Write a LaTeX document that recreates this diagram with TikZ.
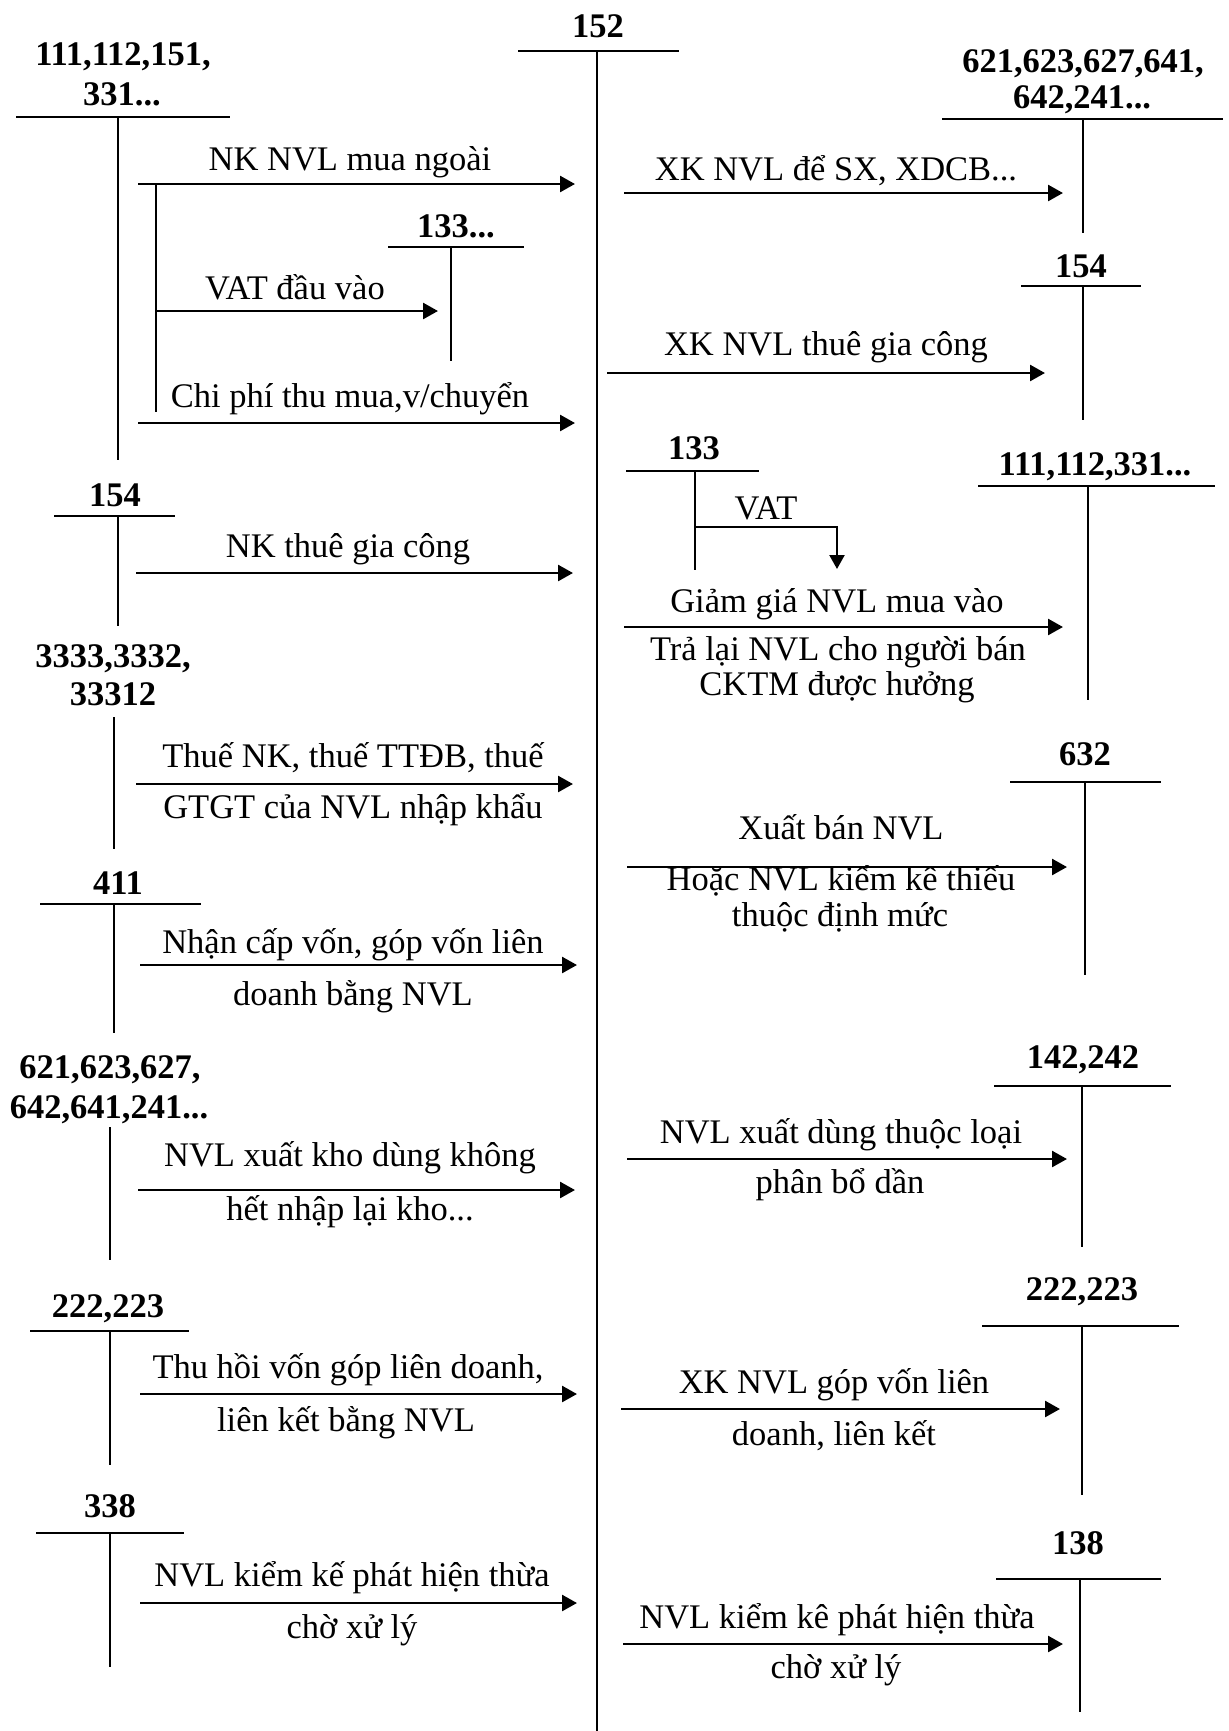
\documentclass[tikz,border=0pt]{standalone}
\usepackage{fontspec}
\setmainfont{Liberation Serif}
\usetikzlibrary{arrows.meta}
\begin{document}
\begin{tikzpicture}[x=0.5pt,y=-0.5pt,
  txt/.style={inner sep=0pt, anchor=base, font=\fontsize{17.25}{20}\selectfont},
  acc/.style={inner sep=0pt, anchor=base, font=\fontsize{17.25}{20}\selectfont\bfseries},
  bar/.style={line width=1.1pt},
  stem/.style={line width=0.9pt},
  mainstem/.style={line width=1.2pt},
  arr/.style={line width=1.3pt, -{Triangle[length=7.5pt,width=8pt]}}]
\fill[white] (0,0) rectangle (1228,1731);
\useasboundingbox (0,0) rectangle (1228,1731);

% ---------- central account 152 ----------
\node[acc] (t152) at (598,37) {152};
\coordinate (b152a) at (518,51); \coordinate (b152b) at (679,51);
\coordinate (s152a) at (597,51); \coordinate (s152b) at (597,1731);
\draw[bar] (b152a) -- (b152b);
\draw[mainstem] (s152a) -- (s152b);

% ---------- left accounts ----------
% 111,112,151,331...
\node[acc] (t111a) at (123,65) {111,112,151,};
\node[acc] (t111b) at (122,105) {331...};
\coordinate (b111a) at (16,117); \coordinate (b111b) at (230,117);
\coordinate (s111a) at (118,117); \coordinate (s111b) at (118,460);
\draw[bar] (b111a) -- (b111b);
\draw[stem] (s111a) -- (s111b);
\coordinate (br1) at (156,185); \coordinate (br2) at (156,412);
\draw[stem] (br1) -- (br2);
\coordinate (a1s) at (138,184); \coordinate (a1e) at (575,184);
\draw[arr] (a1s) -- (a1e);
\node[txt] (l1) at (350,170) {NK NVL mua ngoài};
% 133...
\node[acc] (t133a) at (456,237) {133...};
\coordinate (b133a) at (388,247); \coordinate (b133b) at (524,247);
\coordinate (s133a) at (451,247); \coordinate (s133b) at (451,361);
\draw[bar] (b133a) -- (b133b);
\draw[stem] (s133a) -- (s133b);
\coordinate (a2s) at (156,311); \coordinate (a2e) at (438,311);
\draw[arr] (a2s) -- (a2e);
\node[txt] (l2) at (295,299) {VAT đầu vào};
\coordinate (a3s) at (138,423); \coordinate (a3e) at (575,423);
\draw[arr] (a3s) -- (a3e);
\node[txt] (l3) at (350,407) {Chi phí thu mua,v/chuyển};

% 154 left
\node[acc] (t154l) at (115,506) {154};
\coordinate (b154la) at (54,516); \coordinate (b154lb) at (175,516);
\coordinate (s154la) at (118,516); \coordinate (s154lb) at (118,626);
\draw[bar] (b154la) -- (b154lb);
\draw[stem] (s154la) -- (s154lb);
\coordinate (a4s) at (136,573); \coordinate (a4e) at (573,573);
\draw[arr] (a4s) -- (a4e);
\node[txt] (l4) at (348,557) {NK thuê gia công};

% 3333,3332,33312
\node[acc] (t3333a) at (113,667) {3333,3332,};
\node[acc] (t3333b) at (113,705) {33312};
\coordinate (s3333a) at (114,717); \coordinate (s3333b) at (114,849);
\draw[stem] (s3333a) -- (s3333b);
\coordinate (a5s) at (136,784); \coordinate (a5e) at (573,784);
\draw[arr] (a5s) -- (a5e);
\node[txt] (l5a) at (353,767) {Thuế NK, thuế TTĐB, thuế};
\node[txt] (l5b) at (353,818) {GTGT của NVL nhập khẩu};

% 411
\node[acc] (t411) at (118,894) {411};
\coordinate (b411a) at (40,904); \coordinate (b411b) at (201,904);
\coordinate (s411a) at (114,904); \coordinate (s411b) at (114,1033);
\draw[bar] (b411a) -- (b411b);
\draw[stem] (s411a) -- (s411b);
\coordinate (a6s) at (140,965); \coordinate (a6e) at (577,965);
\draw[arr] (a6s) -- (a6e);
\node[txt] (l6a) at (353,953) {Nhận cấp vốn, góp vốn liên};
\node[txt] (l6b) at (353,1005) {doanh bằng NVL};

% 621,623,627,642,641,241... left
\node[acc] (t621la) at (110,1078) {621,623,627,};
\node[acc] (t621lb) at (109,1118) {642,641,241...};
\coordinate (s621la) at (110,1127); \coordinate (s621lb) at (110,1260);
\draw[stem] (s621la) -- (s621lb);
\coordinate (a7s) at (138,1190); \coordinate (a7e) at (575,1190);
\draw[arr] (a7s) -- (a7e);
\node[txt] (l7a) at (350,1166) {NVL xuất kho dùng không};
\node[txt] (l7b) at (350,1220) {hết nhập lại kho...};

% 222,223 left
\node[acc] (t222l) at (108,1317) {222,223};
\coordinate (b222la) at (30,1331); \coordinate (b222lb) at (189,1331);
\coordinate (s222la) at (110,1331); \coordinate (s222lb) at (110,1465);
\draw[bar] (b222la) -- (b222lb);
\draw[stem] (s222la) -- (s222lb);
\coordinate (a8s) at (140,1394); \coordinate (a8e) at (577,1394);
\draw[arr] (a8s) -- (a8e);
\node[txt] (l8a) at (348,1378) {Thu hồi vốn góp liên doanh,};
\node[txt] (l8b) at (346,1431) {liên kết bằng NVL};

% 338
\node[acc] (t338) at (110,1517) {338};
\coordinate (b338a) at (36,1533); \coordinate (b338b) at (184,1533);
\coordinate (s338a) at (110,1533); \coordinate (s338b) at (110,1667);
\draw[bar] (b338a) -- (b338b);
\draw[stem] (s338a) -- (s338b);
\coordinate (a9s) at (140,1603); \coordinate (a9e) at (577,1603);
\draw[arr] (a9s) -- (a9e);
\node[txt] (l9a) at (352,1586) {NVL kiểm kế phát hiện thừa};
\node[txt] (l9b) at (352,1638) {chờ xử lý};

% ---------- right accounts ----------
% 621,623,627,641,642,241...
\node[acc] (t621ra) at (1083,72) {621,623,627,641,};
\node[acc] (t621rb) at (1082,108) {642,241...};
\coordinate (b621ra) at (942,119); \coordinate (b621rb) at (1223,119);
\coordinate (s621ra) at (1083,119); \coordinate (s621rb) at (1083,233);
\draw[bar] (b621ra) -- (b621rb);
\draw[stem] (s621ra) -- (s621rb);
\coordinate (r1s) at (624,193); \coordinate (r1e) at (1063,193);
\draw[arr] (r1s) -- (r1e);
\node[txt] (m1) at (836,180) {XK NVL để SX, XDCB...};

% 154 right
\node[acc] (t154r) at (1081,277) {154};
\coordinate (b154ra) at (1021,286); \coordinate (b154rb) at (1141,286);
\coordinate (s154ra) at (1083,286); \coordinate (s154rb) at (1083,420);
\draw[bar] (b154ra) -- (b154rb);
\draw[stem] (s154ra) -- (s154rb);
\coordinate (r2s) at (607,373); \coordinate (r2e) at (1045,373);
\draw[arr] (r2s) -- (r2e);
\node[txt] (m2) at (826,355) {XK NVL thuê gia công};

% 133 right
\node[acc] (t133r) at (694,459) {133};
\coordinate (b133ra) at (626,471); \coordinate (b133rb) at (759,471);
\coordinate (s133ra) at (695,471); \coordinate (s133rb) at (695,570);
\draw[bar] (b133ra) -- (b133rb);
\draw[stem] (s133ra) -- (s133rb);
\coordinate (v1) at (695,527); \coordinate (v2) at (837,527); \coordinate (v3) at (837,569);
\draw[line width=1.1pt, -{Triangle[length=7pt,width=7.5pt]}] (v1) -- (v2) -- (v3);
\node[txt] (mvat) at (766,519) {VAT};

% 111,112,331...
\node[acc] (t111r) at (1095,475) {111,112,331...};
\coordinate (b111ra) at (978,486); \coordinate (b111rb) at (1215,486);
\coordinate (s111ra) at (1088,486); \coordinate (s111rb) at (1088,700);
\draw[bar] (b111ra) -- (b111rb);
\draw[stem] (s111ra) -- (s111rb);
\coordinate (r3s) at (624,627); \coordinate (r3e) at (1063,627);
\draw[arr] (r3s) -- (r3e);
\node[txt] (m3a) at (837,612) {Giảm giá NVL mua vào};
\node[txt] (m3b) at (838,660) {Trả lại NVL cho người bán};
\node[txt] (m3c) at (837,695) {CKTM được hưởng};

% 632
\node[acc] (t632) at (1085,765) {632};
\coordinate (b632a) at (1010,782); \coordinate (b632b) at (1161,782);
\coordinate (s632a) at (1085,782); \coordinate (s632b) at (1085,975);
\draw[bar] (b632a) -- (b632b);
\draw[stem] (s632a) -- (s632b);
\node[txt] (m4a) at (841,839) {Xuất bán NVL};
\node[txt] (m4b) at (841,890) {Hoặc NVL kiểm kê thiếu};
\node[txt] (m4c) at (840,926) {thuộc định mức};
\coordinate (r4s) at (627,867); \coordinate (r4e) at (1067,867);
\draw[arr] (r4s) -- (r4e);

% 142,242
\node[acc] (t142) at (1083,1068) {142,242};
\coordinate (b142a) at (994,1086); \coordinate (b142b) at (1171,1086);
\coordinate (s142a) at (1082,1086); \coordinate (s142b) at (1082,1247);
\draw[bar] (b142a) -- (b142b);
\draw[stem] (s142a) -- (s142b);
\coordinate (r5s) at (627,1159); \coordinate (r5e) at (1067,1159);
\draw[arr] (r5s) -- (r5e);
\node[txt] (m5a) at (841,1143) {NVL xuất dùng thuộc loại};
\node[txt] (m5b) at (840,1193) {phân bổ dần};

% 222,223 right
\node[acc] (t222r) at (1082,1300) {222,223};
\coordinate (b222ra) at (982,1326); \coordinate (b222rb) at (1179,1326);
\coordinate (s222ra) at (1082,1326); \coordinate (s222rb) at (1082,1495);
\draw[bar] (b222ra) -- (b222rb);
\draw[stem] (s222ra) -- (s222rb);
\coordinate (r6s) at (621,1409); \coordinate (r6e) at (1060,1409);
\draw[arr] (r6s) -- (r6e);
\node[txt] (m6a) at (834,1393) {XK NVL góp vốn liên};
\node[txt] (m6b) at (834,1445) {doanh, liên kết};

% 138
\node[acc] (t138) at (1078,1554) {138};
\coordinate (b138a) at (996,1579); \coordinate (b138b) at (1161,1579);
\coordinate (s138a) at (1080,1579); \coordinate (s138b) at (1080,1712);
\draw[bar] (b138a) -- (b138b);
\draw[stem] (s138a) -- (s138b);
\coordinate (r7s) at (623,1644); \coordinate (r7e) at (1063,1644);
\draw[arr] (r7s) -- (r7e);
\node[txt] (m7a) at (837,1628) {NVL kiểm kê phát hiện thừa};
\node[txt] (m7b) at (836,1678) {chờ xử lý};
\end{tikzpicture}
\end{document}
